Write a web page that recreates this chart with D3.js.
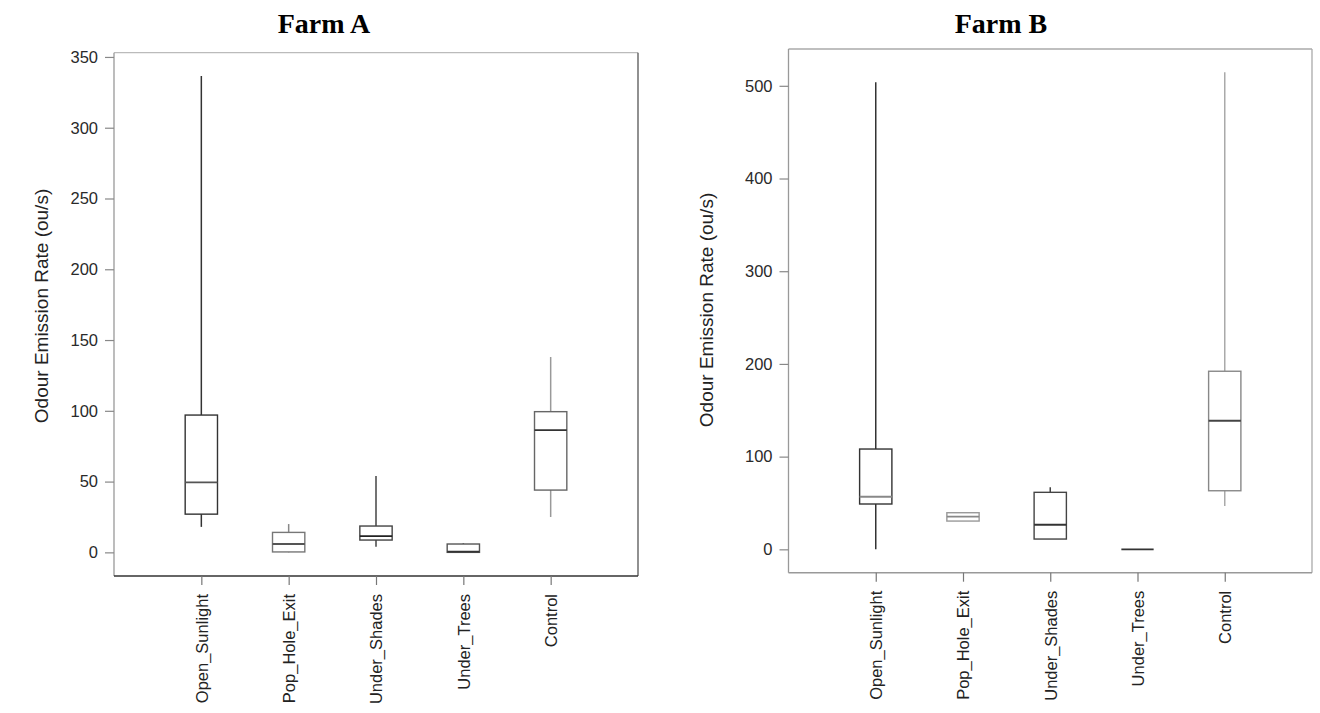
<!DOCTYPE html>
<html>
<head>
<meta charset="utf-8">
<script src="https://cdn.jsdelivr.net/npm/d3@7"></script>
<style>
  html, body { margin: 0; padding: 0; background: #fff; }
  svg { display: block; }
  .tick text { font-family: "Liberation Sans", Arial, sans-serif; }
</style>
</head>
<body>
<svg id="chart" width="1320" height="713"></svg>
<script>
// ---------- data ----------
const categories = ["Open_Sunlight", "Pop_Hole_Exit", "Under_Shades", "Under_Trees", "Control"];

// Farm A (ou/s)
const minA = [18, 0, 4, 0, 25];
const q1A  = [27, 0.3, 8.7, 0, 44];
const medA = [49.5, 5.9, 11.5, 0.5, 86.4];
const q3A  = [97, 14.1, 18.6, 5.9, 99.4];
const maxA = [336.6, 20, 54, 6.5, 138];
const ticksA = [0, 50, 100, 150, 200, 250, 300, 350];
const domainA = [-16.7, 353];

// Farm B (ou/s)
const minB = [0, 30.5, 11.1, 0, 46.7];
const q1B  = [48.9, 30.5, 11.1, 0, 63.2];
const medB = [56.7, 35.2, 26.5, 0, 138.7];
const q3B  = [108.2, 39.5, 61.5, 0, 192.1];
const maxB = [503.7, 39.5, 66.9, 0, 514.5];
const ticksB = [0, 100, 200, 300, 400, 500];
const domainB = [-25.2, 539.7];

const titles = ["Farm A", "Farm B"];
const yLabel = "Odour Emission Rate (ou/s)";

// ---------- styles (per box) ----------
const boxColA = ["#333", "#777", "#444", "#555", "#666"];
const whiColA = ["#333", "#888", "#444", "#666", "#999"];
const medColA = ["#555", "#555", "#222", "#333", "#333"];
const boxColB = ["#333", "#999", "#444", "#333", "#888"];
const whiColB = ["#333", "#999", "#444", "#333", "#aaa"];
const medColB = ["#888", "#888", "#333", "#333", "#444"];

const svg = d3.select("#chart");

function panel(cfg) {
  const { left, right, top, bottom, domain, ticks, mins, q1s, meds, q3s, maxs,
          boxCol, whiCol, medCol, title, titleX, labelX, labelY, frame } = cfg;
  const g = svg.append("g");
  const y = d3.scaleLinear().domain(domain).range([bottom, top]);
  const x = d3.scalePoint().domain(categories).range([left, right]).padding(1);
  const bw = x.step() * 0.37;

  // frame
  g.append("line").attr("x1", left).attr("x2", right).attr("y1", top).attr("y2", top)
    .attr("stroke", frame.top).attr("stroke-width", 1.3);
  g.append("line").attr("x1", right).attr("x2", right).attr("y1", top).attr("y2", bottom)
    .attr("stroke", frame.right).attr("stroke-width", 1.3);
  g.append("line").attr("x1", left).attr("x2", left).attr("y1", top).attr("y2", bottom)
    .attr("stroke", frame.left).attr("stroke-width", 1.3);
  g.append("line").attr("x1", left).attr("x2", right).attr("y1", bottom).attr("y2", bottom)
    .attr("stroke", frame.bottom).attr("stroke-width", 1.6);

  // y axis
  const ya = g.append("g").attr("transform", `translate(${left},0)`)
    .call(d3.axisLeft(y).tickValues(ticks).tickSize(9).tickPadding(7).tickSizeOuter(0));
  ya.select(".domain").remove();
  ya.selectAll(".tick line").attr("stroke", "#888").attr("stroke-width", 1.2);
  ya.selectAll(".tick text").attr("font-size", 16.5).attr("fill", "#2a2a2a");

  // x axis
  const xa = g.append("g").attr("transform", `translate(0,${bottom})`)
    .call(d3.axisBottom(x).tickSize(9).tickSizeOuter(0));
  xa.select(".domain").remove();
  xa.selectAll(".tick line").attr("stroke", "#777").attr("stroke-width", 1.2);
  xa.selectAll(".tick text")
    .attr("font-size", 16.5).attr("fill", "#222")
    .attr("text-anchor", "end")
    .attr("transform", "rotate(-90)")
    .attr("x", -18).attr("y", 0).attr("dy", "0.35em");

  // boxes
  categories.forEach((c, i) => {
    const cx = x(c);
    const bg = g.append("g");
    bg.append("line").attr("x1", cx).attr("x2", cx).attr("y1", y(q3s[i])).attr("y2", y(maxs[i]))
      .attr("stroke", whiCol[i]).attr("stroke-width", 1.5);
    bg.append("line").attr("x1", cx).attr("x2", cx).attr("y1", y(q1s[i])).attr("y2", y(mins[i]))
      .attr("stroke", whiCol[i]).attr("stroke-width", 1.5);
    bg.append("rect").attr("x", cx - bw / 2).attr("width", bw)
      .attr("y", y(q3s[i])).attr("height", Math.max(0, y(q1s[i]) - y(q3s[i])))
      .attr("fill", "none").attr("stroke", boxCol[i]).attr("stroke-width", 1.4);
    bg.append("line").attr("x1", cx - bw / 2).attr("x2", cx + bw / 2)
      .attr("y1", y(meds[i])).attr("y2", y(meds[i]))
      .attr("stroke", medCol[i]).attr("stroke-width", 1.8);
  });

  // title
  svg.append("text").attr("x", titleX).attr("y", 33)
    .attr("text-anchor", "middle")
    .attr("font-family", "'Liberation Serif', 'Times New Roman', serif")
    .attr("font-weight", "bold").attr("font-size", 28).attr("fill", "#000")
    .text(title);

  // y label
  svg.append("text")
    .attr("transform", `translate(${labelX},${labelY}) rotate(-90)`)
    .attr("text-anchor", "middle").attr("dy", "0.35em")
    .attr("font-family", "'Liberation Sans', Arial, sans-serif")
    .attr("font-size", 19).attr("fill", "#222")
    .text(yLabel);
}

panel({
  left: 114, right: 638, top: 52.7, bottom: 576,
  domain: domainA, ticks: ticksA,
  mins: minA, q1s: q1A, meds: medA, q3s: q3A, maxs: maxA,
  boxCol: boxColA, whiCol: whiColA, medCol: medColA,
  title: titles[0], titleX: 324, labelX: 41, labelY: 306,
  frame: { top: "#bbb", right: "#555", left: "#999", bottom: "#333" }
});

panel({
  left: 788.5, right: 1312, top: 49, bottom: 572.7,
  domain: domainB, ticks: ticksB,
  mins: minB, q1s: q1B, meds: medB, q3s: q3B, maxs: maxB,
  boxCol: boxColB, whiCol: whiColB, medCol: medColB,
  title: titles[1], titleX: 1001, labelX: 706, labelY: 310,
  frame: { top: "#aaa", right: "#aaa", left: "#999", bottom: "#999" }
});
</script>
</body>
</html>
